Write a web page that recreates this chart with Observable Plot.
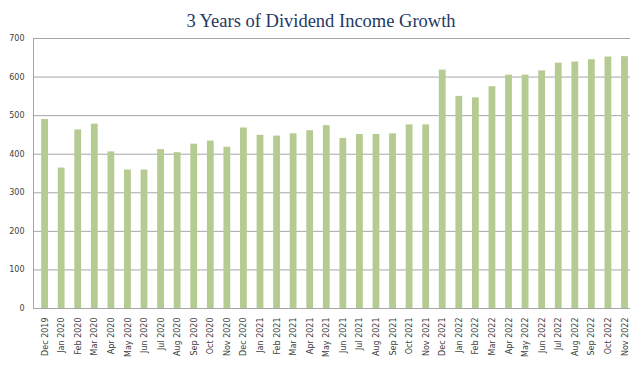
<!DOCTYPE html>
<html>
<head>
<meta charset="utf-8">
<script src="https://cdn.jsdelivr.net/npm/d3@7"></script>
<script src="https://cdn.jsdelivr.net/npm/@observablehq/plot@0.6"></script>
<style>
  html, body { margin: 0; padding: 0; background: #fff; }
</style>
</head>
<body>
<div id="chart"></div>
<script>
const title = "3 Years of Dividend Income Growth";
const months = [
  "Dec 2019", "Jan 2020", "Feb 2020", "Mar 2020", "Apr 2020", "May 2020",
  "Jun 2020", "Jul 2020", "Aug 2020", "Sep 2020", "Oct 2020", "Nov 2020",
  "Dec 2020", "Jan 2021", "Feb 2021", "Mar 2021", "Apr 2021", "May 2021",
  "Jun 2021", "Jul 2021", "Aug 2021", "Sep 2021", "Oct 2021", "Nov 2021",
  "Dec 2021", "Jan 2022", "Feb 2022", "Mar 2022", "Apr 2022", "May 2022",
  "Jun 2022", "Jul 2022", "Aug 2022", "Sep 2022", "Oct 2022", "Nov 2022"
];
const values = [
  490, 364, 463, 478, 406, 359,
  359, 412, 404, 426, 434, 418,
  468, 449, 447, 453, 461, 474,
  441, 451, 451, 453, 476, 476,
  618, 550, 546, 575, 605, 605,
  616, 636, 639, 645, 652, 653
];
const yTicks = [0, 100, 200, 300, 400, 500, 600, 700];

const data = months.map((m, i) => ({month: m, value: values[i]}));

const chart = Plot.plot({
  width: 640,
  height: 368,
  marginTop: 38,
  marginBottom: 60,
  marginLeft: 33,
  marginRight: 10,
  style: {fontFamily: "DejaVu Sans", fontSize: "8px", color: "#404040", background: "#fff"},
  x: {domain: months, range: [41.2, 627.9], paddingInner: 0.59, paddingOuter: 0, round: false, label: null},
  y: {domain: [0, 700], label: null},
  marks: [
    Plot.ruleY(yTicks, {stroke: "#a6a6a6", strokeWidth: 1, strokeOpacity: 1}),
    Plot.frame({anchor: "left", stroke: "#a6a6a6", strokeOpacity: 1}),
    Plot.barY(data, {x: "month", y: "value", fill: "#b5cb92"}),
    Plot.axisX({tickRotate: -90, tickSize: 0, tickPadding: 9, label: null}),
    Plot.axisY({ticks: yTicks, tickSize: 0, tickPadding: 9, label: null}),
    Plot.text([title], {
      frameAnchor: "top", dx: -11, dy: -12, lineAnchor: "bottom",
      fontSize: 18.5, fontFamily: "Liberation Serif", fill: "#1f3864"
    })
  ]
});
document.getElementById("chart").appendChild(chart);
</script>
</body>
</html>
